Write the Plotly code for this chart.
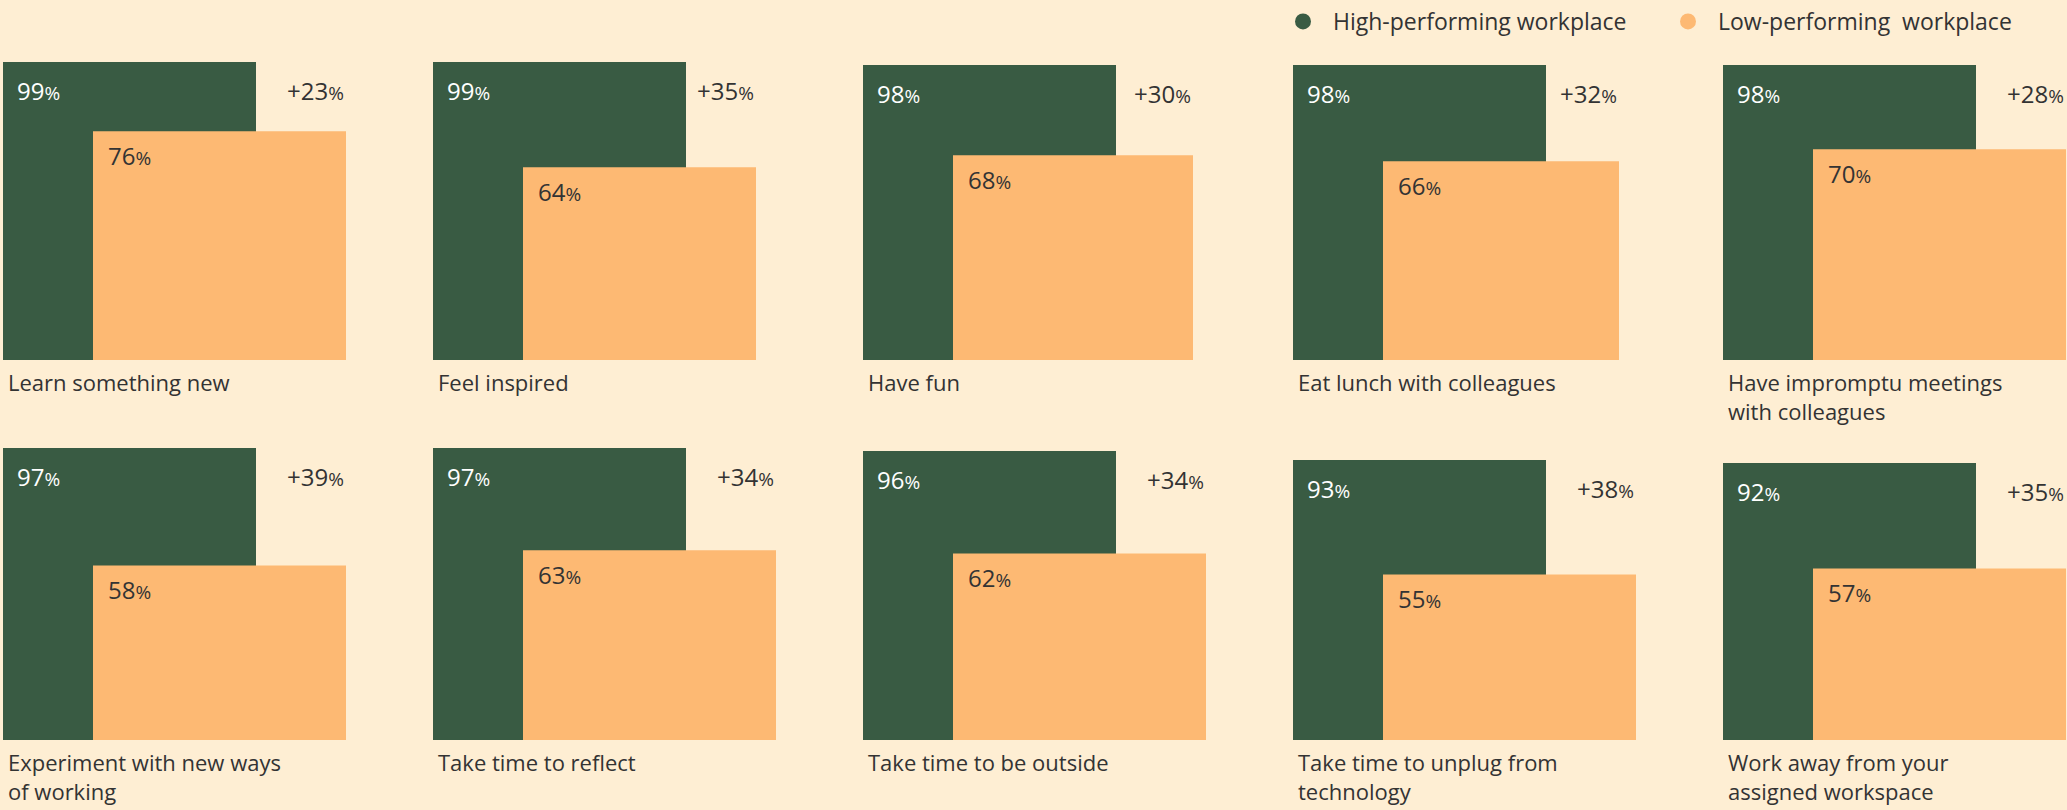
import plotly.graph_objects as go

# ---- data ----
categories = [
    "Learn something new",
    "Feel inspired",
    "Have fun",
    "Eat lunch with colleagues",
    "Have impromptu meetings<br>with colleagues",
    "Experiment with new ways<br>of working",
    "Take time to reflect",
    "Take time to be outside",
    "Take time to unplug from<br>technology",
    "Work away from your<br>assigned workspace",
]
high_performing = [99, 99, 98, 98, 98, 97, 97, 96, 93, 92]
low_performing = [76, 64, 68, 66, 70, 58, 63, 62, 55, 57]
series_names = ["High-performing workplace", "Low-performing  workplace"]

# ---- styles ----
BG = "#FEEED3"
GREEN = "#395B43"
ORANGE = "#FDB973"
TEXT = "#333333"
FONT = "Open Sans"
W, H = 2067, 810
GREEN_W = 253
ORANGE_OFF = 90
orange_widths = [253, 233, 240, 236, 253, 253, 253, 253, 253, 253]
PANEL_W = 343
COL_STEP = 430
ROW_BOTTOM = [360, 740]      # pixel y of baseline
FULL_H = 301                 # pixels for 100%

fig = go.Figure()
annotations = []


def pct(v, size=19, sign=""):
    return f"{sign}{v}<span style='font-size:{size}px'>%</span>"


for i, cat in enumerate(categories):
    r, c = divmod(i, 5)
    n = i + 1
    xa = "x" if n == 1 else f"x{n}"
    ya = "y" if n == 1 else f"y{n}"
    left = 3 + COL_STEP * c
    x0 = left / W
    x1 = (left + PANEL_W) / W
    yb = 1 - ROW_BOTTOM[r] / H
    yt = 1 - (ROW_BOTTOM[r] - FULL_H) / H
    ow = orange_widths[i]
    hi = high_performing[i]
    lo = low_performing[i]

    fig.add_trace(go.Bar(
        x=[GREEN_W / 2], y=[hi], width=[GREEN_W], xaxis=xa, yaxis=ya,
        marker=dict(color=GREEN, line=dict(width=0)), name=series_names[0],
        showlegend=False, hoverinfo="skip"))
    fig.add_trace(go.Bar(
        x=[ORANGE_OFF + ow / 2], y=[lo], width=[ow], xaxis=xa, yaxis=ya,
        marker=dict(color=ORANGE, line=dict(width=0)), name=series_names[1],
        showlegend=False, hoverinfo="skip"))

    axkey_x = "xaxis" if n == 1 else f"xaxis{n}"
    axkey_y = "yaxis" if n == 1 else f"yaxis{n}"
    fig.update_layout(**{
        axkey_x: dict(domain=[x0, x1], range=[0, PANEL_W], visible=False,
                      fixedrange=True, anchor=ya),
        axkey_y: dict(domain=[yb, yt], range=[0, 100], visible=False,
                      fixedrange=True, anchor=xa),
    })

    annotations.append(dict(
        x=12, y=hi, xref=xa, yref=ya, xanchor="left", yanchor="middle",
        yshift=-28, text=pct(hi), showarrow=False,
        font=dict(family=FONT, size=24, color="white")))
    annotations.append(dict(
        x=ORANGE_OFF + ow, y=hi, xref=xa, yref=ya, xanchor="right",
        yanchor="middle", yshift=-28, text=pct(hi - lo, sign="+"),
        showarrow=False, font=dict(family=FONT, size=24, color=TEXT)))
    annotations.append(dict(
        x=ORANGE_OFF + 13, y=lo, xref=xa, yref=ya, xanchor="left",
        yanchor="middle", yshift=-24, text=pct(lo), showarrow=False,
        font=dict(family=FONT, size=24, color=TEXT)))
    annotations.append(dict(
        x=3, y=0, xref=xa, yref=ya, xanchor="left", yanchor="top",
        yshift=-5, text=cat, align="left", showarrow=False,
        font=dict(family=FONT, size=22, color=TEXT)))

# legend-only traces with circular markers
for name, col in zip(series_names, [GREEN, ORANGE]):
    fig.add_trace(go.Scatter(
        x=[None], y=[None], mode="markers", name=name,
        marker=dict(symbol="circle", size=16, color=col),
        xaxis="x", yaxis="y", showlegend=True))

fig.update_layout(
    width=W, height=H,
    margin=dict(l=0, r=0, t=0, b=0, pad=0, autoexpand=False),
    paper_bgcolor=BG, plot_bgcolor=BG,
    barmode="overlay",
    annotations=annotations,
    showlegend=True,
    legend=dict(
        orientation="h", x=1273 / W, xanchor="left", y=1.0, yanchor="top",
        font=dict(family=FONT, size=23, color=TEXT),
        bgcolor="rgba(0,0,0,0)", entrywidth=320, entrywidthmode="pixels",
        itemwidth=50, itemsizing="trace"),
    font=dict(family=FONT, color=TEXT),
)

fig.write_html("out.html",
               config={"displayModeBar": False},
               post_script="document.body.style.margin='0';"
                           "document.body.style.overflow='hidden';")
